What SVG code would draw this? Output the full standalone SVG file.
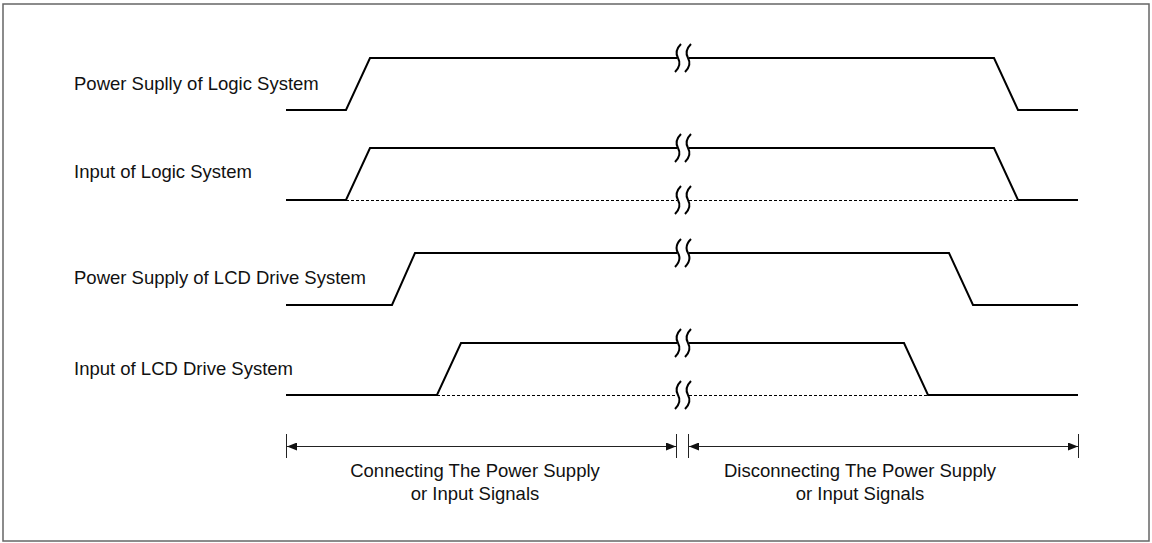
<svg xmlns="http://www.w3.org/2000/svg" width="1152" height="543" viewBox="0 0 1152 543">
<style>
.frame{fill:#fff;stroke:#666;stroke-width:1.5}
.sig{fill:none;stroke:#000;stroke-width:2;stroke-linejoin:miter}
.dot{fill:none;stroke:#000;stroke-width:1;stroke-dasharray:3 2}
.brk{fill:none;stroke:#000;stroke-width:2}
.dim{fill:none;stroke:#222;stroke-width:1}
.lbl{font-family:"Liberation Sans",Arial,sans-serif;font-size:18.5px;fill:#111}
.mid{text-anchor:middle}
</style>
<defs>
<marker id="arr" viewBox="0 0 10 8" refX="10" refY="4" markerWidth="10" markerHeight="8" markerUnits="userSpaceOnUse" orient="auto-start-reverse">
<path d="M0,0 L10,4 L0,8 Z" fill="#111"/>
</marker>
<path id="s" d="M3,-14 Q-4,-7 0,0 Q4,7 -3,14"/>
</defs>
<rect class="frame" x="3" y="4" width="1146" height="537"/>

<g id="sig-power-logic">
<text class="lbl" x="74" y="90">Power Suplly of Logic System</text>
<path class="sig" d="M286,110 H346 L370,58 H677"/>
<path class="sig" d="M689,58 H994 L1018,110 H1078"/>
</g>

<g id="sig-input-logic">
<text class="lbl" x="74" y="178">Input of Logic System</text>
<path class="dot" d="M346,200.5 H677 M689,200.5 H1018"/>
<path class="sig" d="M286,200 H346 L370,148 H677"/>
<path class="sig" d="M689,148 H994 L1018,200 H1078"/>
</g>

<g id="sig-power-lcd">
<text class="lbl" x="74" y="284">Power Supply of LCD Drive System</text>
<path class="sig" d="M286,305 H392 L415,253 H677"/>
<path class="sig" d="M689,253 H949 L973,305 H1078"/>
</g>

<g id="sig-input-lcd">
<text class="lbl" x="74" y="375">Input of LCD Drive System</text>
<path class="dot" d="M437,395.5 H677 M689,395.5 H928"/>
<path class="sig" d="M286,395 H437 L461,343 H677"/>
<path class="sig" d="M689,343 H904 L928,395 H1078"/>
</g>

<g id="breaks" class="brk">
<use href="#s" x="678" y="58"/><use href="#s" x="688" y="58"/>
<use href="#s" x="678" y="148"/><use href="#s" x="688" y="148"/>
<use href="#s" x="678" y="200"/><use href="#s" x="688" y="200"/>
<use href="#s" x="678" y="253"/><use href="#s" x="688" y="253"/>
<use href="#s" x="678" y="343"/><use href="#s" x="688" y="343"/>
<use href="#s" x="678" y="395"/><use href="#s" x="688" y="395"/>
</g>

<g id="connectors">
<path class="dim" d="M286.5,434 V458 M676.5,434 V458 M688.5,434 V458 M1078.5,434 V458"/>
<path class="dim" d="M287,446.5 H676" marker-start="url(#arr)" marker-end="url(#arr)"/>
<path class="dim" d="M689,446.5 H1078" marker-start="url(#arr)" marker-end="url(#arr)"/>
</g>

<g id="label-connect">
<text class="lbl mid" x="475" y="477">Connecting The Power Supply</text>
<text class="lbl mid" x="475" y="500">or Input Signals</text>
</g>
<g id="label-disconnect">
<text class="lbl mid" x="860" y="477">Disconnecting The Power Supply</text>
<text class="lbl mid" x="860" y="500">or Input Signals</text>
</g>
</svg>
